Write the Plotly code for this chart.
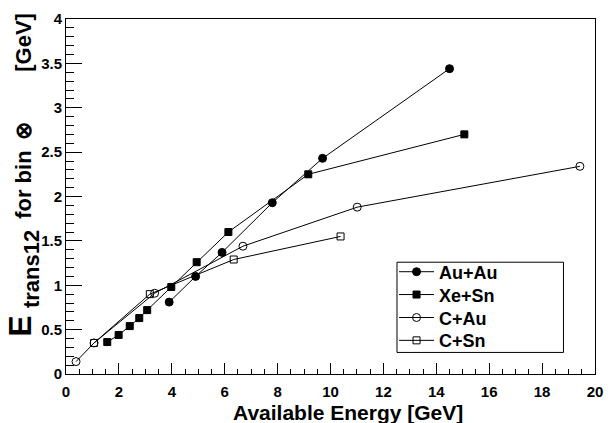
import plotly.graph_objects as go

# Data
auau_x = [3.9, 4.9, 5.9, 7.8, 9.7, 14.5]
auau_y = [0.81, 1.10, 1.37, 1.93, 2.43, 3.44]
xesn_x = [1.56, 1.99, 2.41, 2.77, 3.07, 3.98, 4.94, 6.14, 9.16, 15.06]
xesn_y = [0.36, 0.44, 0.54, 0.63, 0.72, 0.98, 1.26, 1.60, 2.25, 2.70]
cau_x = [0.38, 1.06, 3.35, 6.69, 11.01, 19.43]
cau_y = [0.14, 0.35, 0.91, 1.44, 1.88, 2.34]
csn_x = [1.06, 3.17, 6.34, 10.38]
csn_y = [0.35, 0.90, 1.29, 1.55]

series_names = ["Au+Au", "Xe+Sn", "C+Au", "C+Sn"]
series_x = [auau_x, xesn_x, cau_x, csn_x]
series_y = [auau_y, xesn_y, cau_y, csn_y]
symbols = ["circle", "square", "circle-open", "square-open"]
sizes = [8, 7, 8, 7]

W, H = 613, 423
L, R, T, B = 66, 603, 12, 374
pw, ph = R - L, B - T


def px_x(p):
    return (p - L) / pw


def px_y(p):
    return (B - p) / ph


FONT = "Liberation Sans"
legend_rows = [270, 293.3, 316.7, 340]

fig = go.Figure()
layout_legends = {}
for i, (name, xs, ys, sym, sz) in enumerate(zip(series_names, series_x, series_y, symbols, sizes)):
    key = "legend" if i == 0 else f"legend{i + 1}"
    fig.add_trace(go.Scatter(
        x=xs, y=ys, mode="lines+markers", name=name, legend=key,
        line=dict(color="black", width=1),
        marker=dict(symbol=sym, size=sz, color="black",
                    line=dict(color="black", width=1)),
    ))
    layout_legends[key] = dict(
        x=px_x(399), y=px_y(legend_rows[i]), xanchor="left", yanchor="middle",
        bgcolor="rgba(0,0,0,0)", borderwidth=0,
        font=dict(family=FONT, size=18, weight="bold", color="black"),
        itemwidth=35,
    )

fig.update_layout(
    width=W, height=H,
    margin=dict(l=L, r=W - R, t=T, b=H - B, pad=0),
    paper_bgcolor="white", plot_bgcolor="white",
    font=dict(family=FONT, color="black"),
    showlegend=True,
    **layout_legends,
)

fig.update_xaxes(
    range=[0, 20], showgrid=False, zeroline=False,
    showline=True, linecolor="black", linewidth=1, mirror=True,
    ticks="inside", ticklen=11, tickwidth=1, tickcolor="black",
    tick0=0, dtick=2, ticklabelstandoff=4,
    minor=dict(ticks="inside", ticklen=5, dtick=0.5, tickcolor="black", showgrid=False),
    tickfont=dict(family=FONT, size=15, weight="bold", color="black"),
)
fig.update_yaxes(
    range=[0, 4], showgrid=False, zeroline=False,
    showline=True, linecolor="black", linewidth=1, mirror=True,
    ticks="inside", ticklen=16, tickwidth=1, tickcolor="black",
    tick0=0, dtick=0.5,
    minor=dict(ticks="inside", ticklen=8, dtick=0.1, tickcolor="black", showgrid=False),
    tickfont=dict(family=FONT, size=15, weight="bold", color="black"),
)

# Legend frame
fig.add_shape(type="rect", xref="paper", yref="paper",
              x0=px_x(402), x1=px_x(571), y0=px_y(352), y1=px_y(260),
              line=dict(color="black", width=1), fillcolor="rgba(0,0,0,0)", layer="above")

# Axis titles
fig.add_annotation(
    text="<b>Available Energy [GeV]</b>", xref="paper", yref="paper",
    x=px_x(471), y=px_y(413), xanchor="right", yanchor="middle",
    showarrow=False, font=dict(family=FONT, size=21, color="black"),
)
fig.add_annotation(
    text=("<b><span style='font-size:32px'>E</span>\u2004"
          "<sub><sub><span style='font-size:22px'>trans12</span></sub></sub>"
          "\u2002for bin\u2009 ⊗\u2003\u2003 [GeV]</b>"),
    xref="paper", yref="paper",
    x=px_x(23), y=px_y(4), xanchor="center", yanchor="top", textangle=-90,
    showarrow=False, font=dict(family=FONT, size=22, color="black"),
)

fig.write_html("out.html")
